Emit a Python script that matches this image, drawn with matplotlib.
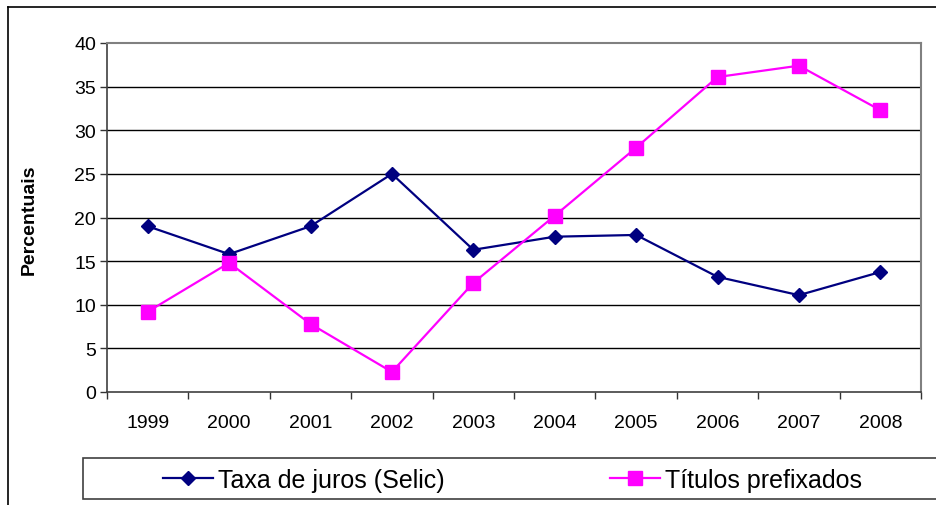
import matplotlib
matplotlib.use("Agg")
import matplotlib.pyplot as plt
from matplotlib.patches import Rectangle
from matplotlib.lines import Line2D

plt.rcParams["font.family"] = ["Liberation Sans", "DejaVu Sans"]

years = ['1999', '2000', '2001', '2002', '2003', '2004', '2005', '2006', '2007', '2008']
selic = [19.0, 15.8, 19.0, 25.0, 16.3, 17.8, 18.0, 13.2, 11.1, 13.75]
prefixados = [9.2, 14.8, 7.8, 2.3, 12.5, 20.2, 28.0, 36.1, 37.4, 32.3]
yticks = [0, 5, 10, 15, 20, 25, 30, 35, 40]

navy = '#000080'
magenta = '#FF00FF'
W, H = 936, 506

fig = plt.figure(figsize=(9.36, 5.06), dpi=100)

# outer chart frame (cropped on right and bottom)
fig.add_artist(Line2D([8/W, 8/W], [0, 1-8/H], color='black', lw=1.2, transform=fig.transFigure))
fig.add_artist(Line2D([8/W, 1], [1-8/H, 1-8/H], color='black', lw=1.2, transform=fig.transFigure))

ax = fig.add_axes([107/W, 1-393/H, 814/W, 349/H])
x = list(range(len(years)))
ax.plot(x, selic, '-', color=navy, lw=1.6, marker='D', markersize=7,
        markerfacecolor=navy, markeredgecolor=navy, label='Taxa de juros (Selic)', zorder=3)
ax.plot(x, prefixados, '-', color=magenta, lw=1.6, marker='s', markersize=9.5,
        markerfacecolor=magenta, markeredgecolor=magenta, label='Títulos prefixados', zorder=3)

ax.set_xlim(-0.5, len(years)-0.5)
ax.set_ylim(0, 40)
ax.set_yticks(yticks)
ax.set_yticklabels([str(v) for v in yticks], fontsize=14)
ax.set_xticks([i-0.5 for i in range(len(years)+1)])
ax.set_xticklabels([])
ax.set_xticks(x, minor=True)
ax.set_xticklabels(years, minor=True, fontsize=14)
ax.tick_params(axis='x', which='minor', length=0, pad=16)
ax.tick_params(axis='x', which='major', length=5, width=1, color='#333333', direction='out')
ax.tick_params(axis='y', length=5, width=1, color='#333333', direction='out', pad=3)
for v in yticks[1:-1]:
    ax.axhline(v, color='black', lw=1, zorder=1)
for s in ['top', 'right']:
    ax.spines[s].set_color('#808080')
    ax.spines[s].set_linewidth(1.5)
for s in ['left', 'bottom']:
    ax.spines[s].set_color('#404040')
    ax.spines[s].set_linewidth(1.2)

fig.text(29/W, 1-220/H, 'Percentuais', rotation=90, fontsize=14, fontweight='bold',
         ha='center', va='center')

# legend box
fig.add_artist(Rectangle((83/W, 1-500/H), (W-83+5)/W, 41/H, transform=fig.transFigure,
                         facecolor='white', edgecolor='#404040', lw=1.2))
handles, labels = ax.get_legend_handles_labels()
leg = fig.legend(handles, labels, ncol=2, loc='center left', bbox_to_anchor=(163/W, 1-481/H),
                 frameon=False, fontsize=18, handlelength=2.0, handletextpad=0.2,
                 columnspacing=6.6, borderpad=0, borderaxespad=0)

fig.savefig('out.png', dpi=100)
